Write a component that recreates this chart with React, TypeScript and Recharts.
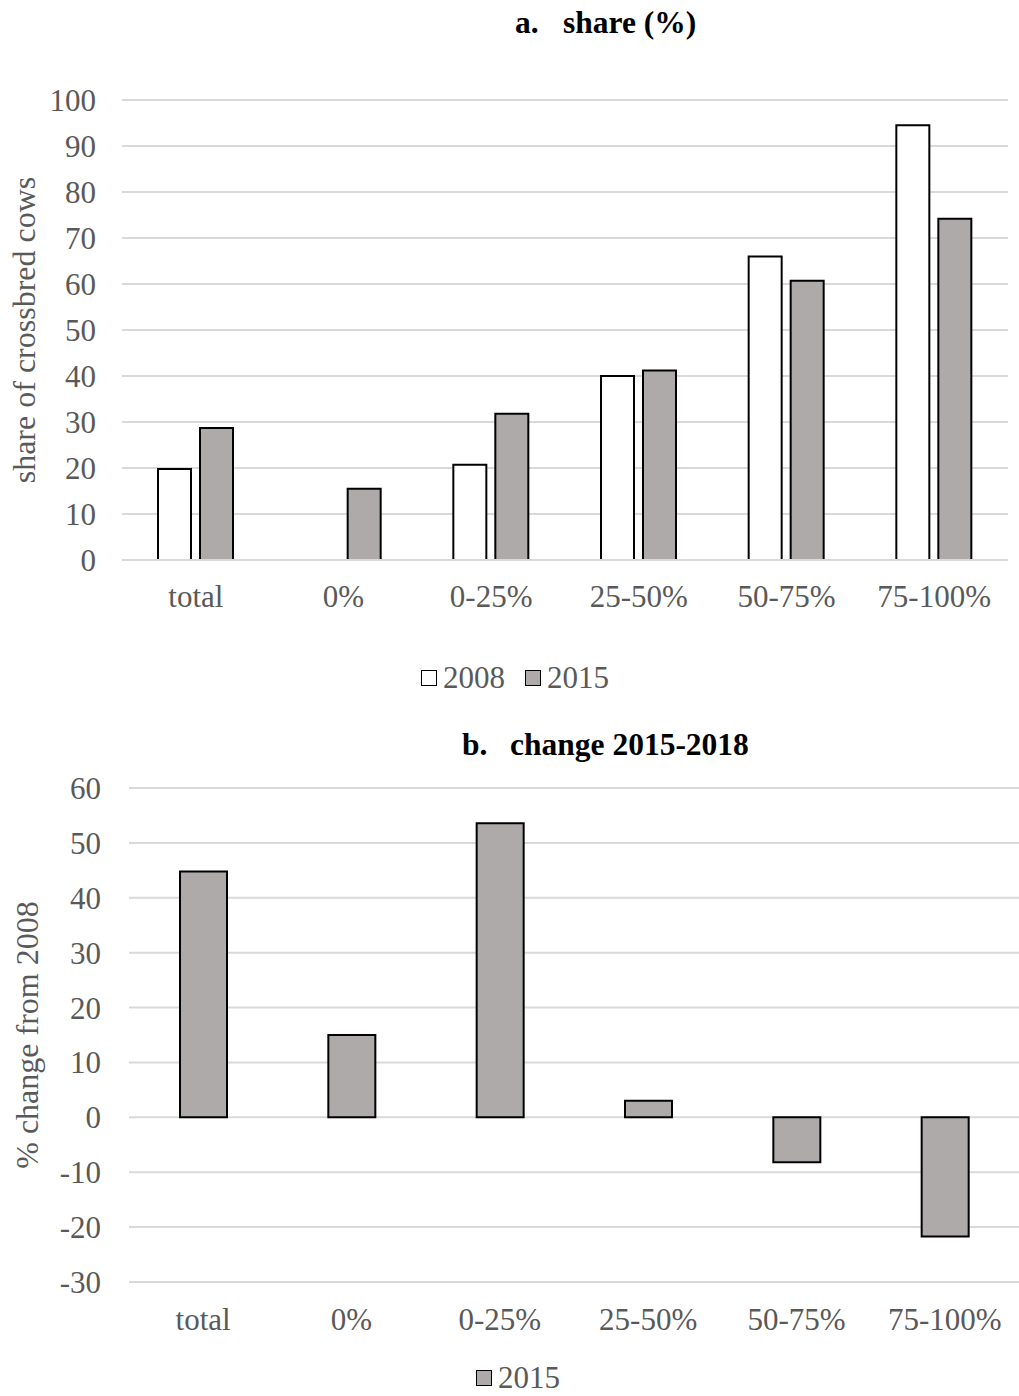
import { Bar, BarChart, CartesianGrid, XAxis, YAxis } from "recharts";

const categories = ["total", "0%", "0-25%", "25-50%", "50-75%", "75-100%"];
const share2008: (number | null)[] = [19.8, null, 20.7, 40, 66, 94.5];
const share2015 = [28.7, 15.5, 31.8, 41.2, 60.7, 74.2];
const change2015 = [44.8, 15, 53.6, 3, -8.2, -21.7];

const shareTicks = [0, 10, 20, 30, 40, 50, 60, 70, 80, 90, 100];
const changeTicks = [-30, -20, -10, 0, 10, 20, 30, 40, 50, 60];

const font = '"Liberation Serif", "Times New Roman", serif';
const textColor = "#595959";
const gridColor = "#d9d9d9";
const grayFill = "#aeaaaa";

const shareData = categories.map((name, i) => ({ name, y2008: share2008[i], y2015: share2015[i] }));
const changeData = categories.map((name, i) => ({ name, y2015: change2015[i] }));

const tick = { fill: textColor, fontSize: 31, fontFamily: font };

function Swatch({ fill }: { fill: string }) {
  return (
    <span
      style={{
        display: "inline-block",
        width: 14,
        height: 14,
        border: "1.5px solid #000",
        background: fill,
        marginRight: 6,
        verticalAlign: "middle",
        position: "relative",
        top: -3
      }}
    />
  );
}

function Title({ num, text, top, left }: { num: string; text: string; top: number; left: number }) {
  return (
    <div style={{ position: "absolute", top, left, fontFamily: font, fontWeight: 700, fontSize: 31.5, color: "#000", whiteSpace: "nowrap", lineHeight: "34px" }}>
      <span style={{ display: "inline-block", width: 48 }}>{num}</span>
      {text}
    </div>
  );
}

export default function App() {
  return (
    <div style={{ position: "absolute", top: 0, left: 0, width: 1019, height: 1396, background: "#fff", fontFamily: font }}>
      <Title num="a." text="share (%)" top={6} left={515} />

      <div style={{ position: "absolute", top: 0, left: 0 }}>
        <BarChart width={1019} height={620} data={shareData} margin={{ top: 100, right: 11, left: 0, bottom: 0 }} barSize={33} barGap={9}>
          <CartesianGrid vertical={false} stroke={gridColor} strokeWidth={2} />
          <XAxis dataKey="name" axisLine={{ stroke: gridColor, strokeWidth: 2 }} tickLine={false} tickSize={0} tickMargin={25} height={60} tick={tick} interval={0} />
          <YAxis
            domain={[0, 100]}
            ticks={shareTicks}
            axisLine={false}
            tickLine={false}
            tickSize={0}
            tickMargin={26}
            width={122}
            tick={tick}
            label={{ value: "share of crossbred cows", angle: -90, position: "insideLeft", offset: 24, style: { textAnchor: "middle", fill: textColor, fontSize: 32, fontFamily: font } }}
          />
          <Bar dataKey="y2008" fill="#ffffff" stroke="#000" strokeWidth={2} isAnimationActive={false} />
          <Bar dataKey="y2015" fill={grayFill} stroke="#000" strokeWidth={2} isAnimationActive={false} />
        </BarChart>
      </div>

      <div style={{ position: "absolute", top: 660, left: 421, fontSize: 31, color: textColor, whiteSpace: "nowrap", lineHeight: "36px" }}>
        <Swatch fill="#ffffff" />2008
        <span style={{ display: "inline-block", width: 20 }} />
        <Swatch fill={grayFill} />2015
      </div>

      <Title num="b." text="change 2015-2018" top={728} left={462} />

      <div style={{ position: "absolute", top: 700, left: 0 }}>
        <BarChart width={1019} height={642} data={changeData} margin={{ top: 88, right: 0, left: 0, bottom: 0 }} barSize={47}>
          <CartesianGrid vertical={false} stroke={gridColor} strokeWidth={2} />
          <XAxis dataKey="name" axisLine={false} tickLine={false} tickSize={0} tickMargin={26} height={60} tick={tick} interval={0} />
          <YAxis
            domain={[-30, 60]}
            ticks={changeTicks}
            axisLine={false}
            tickLine={false}
            tickSize={0}
            tickMargin={28}
            width={129}
            tick={tick}
            label={{ value: "% change from 2008", angle: -90, position: "insideLeft", offset: 27, style: { textAnchor: "middle", fill: textColor, fontSize: 32, fontFamily: font } }}
          />
          <Bar dataKey="y2015" fill={grayFill} stroke="#000" strokeWidth={2} isAnimationActive={false} />
        </BarChart>
      </div>

      <div style={{ position: "absolute", top: 1360, left: 476, fontSize: 31, color: textColor, whiteSpace: "nowrap", lineHeight: "36px" }}>
        <Swatch fill={grayFill} />2015
      </div>
    </div>
  );
}
